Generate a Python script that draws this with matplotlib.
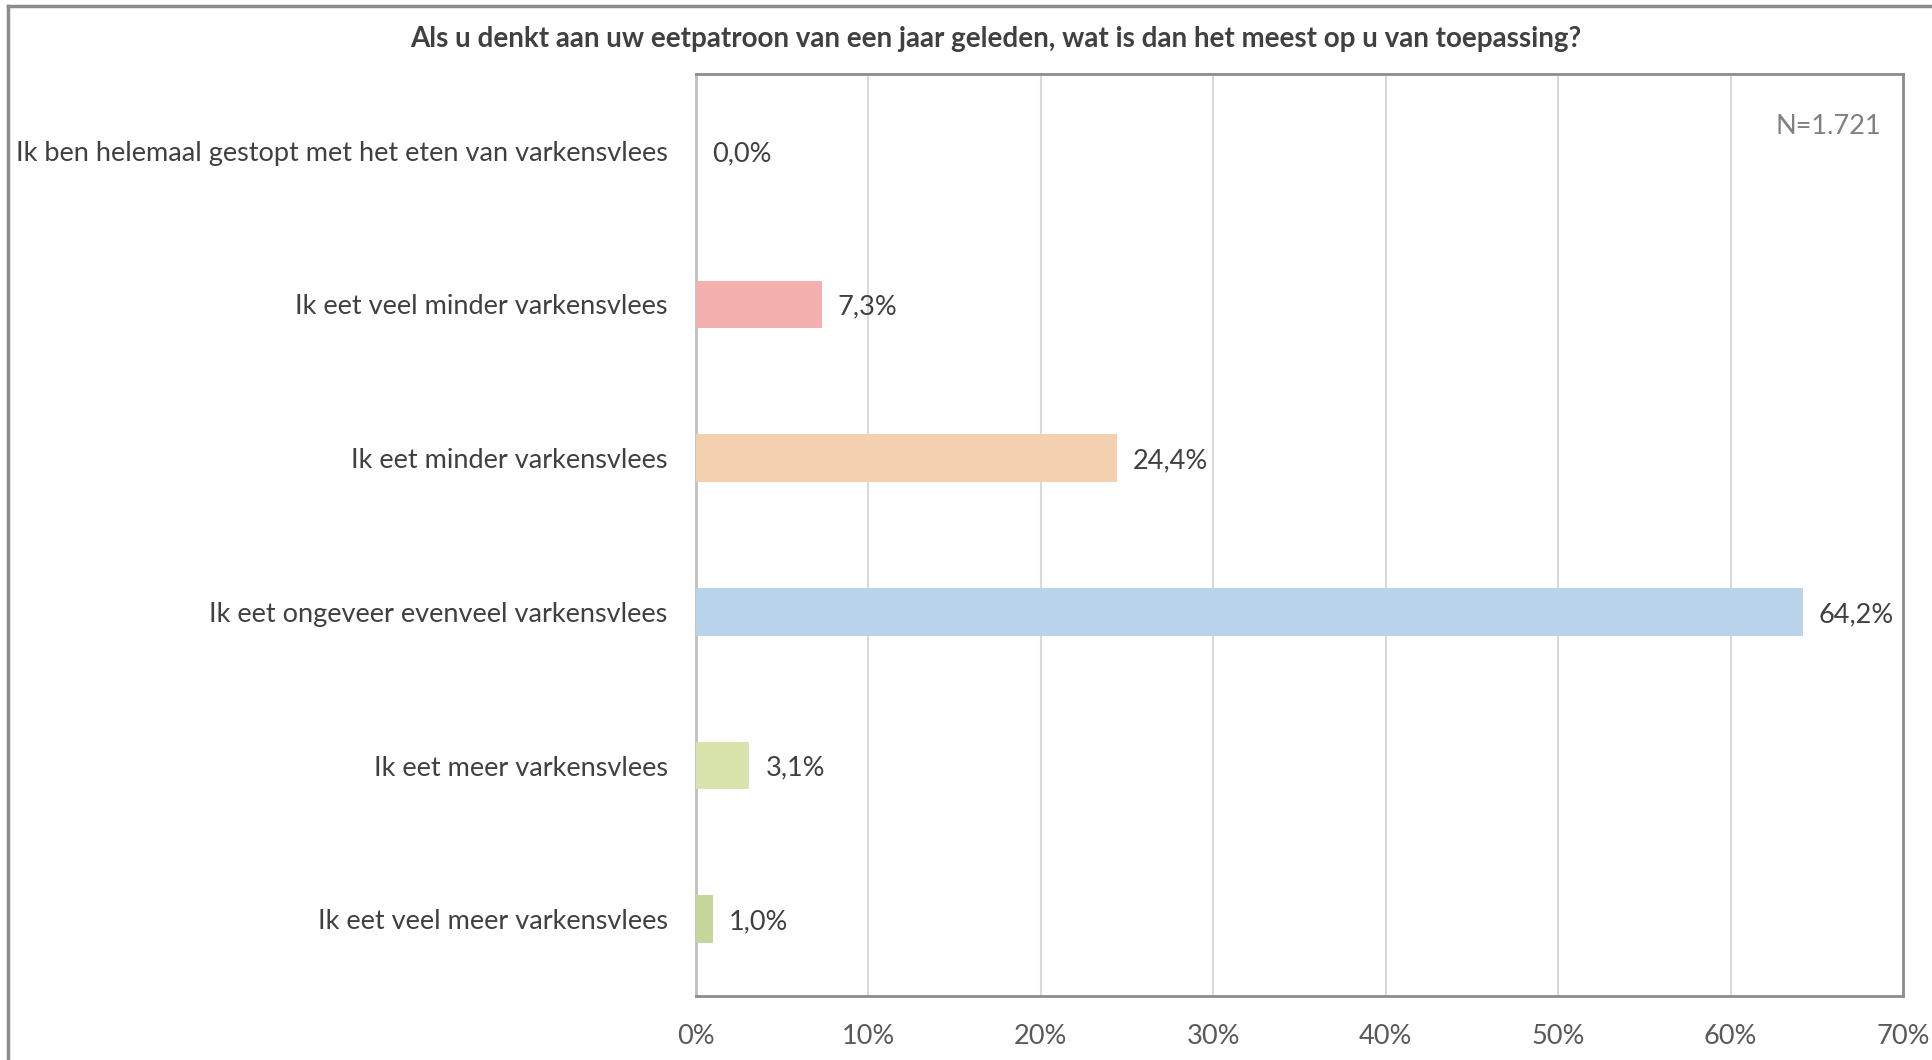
import matplotlib
matplotlib.use("Agg")
import matplotlib.pyplot as plt
from matplotlib.lines import Line2D

categories = [
    "Ik ben helemaal gestopt met het eten van varkensvlees",
    "Ik eet veel minder varkensvlees",
    "Ik eet minder varkensvlees",
    "Ik eet ongeveer evenveel varkensvlees",
    "Ik eet meer varkensvlees",
    "Ik eet veel meer varkensvlees",
]
values = [0.0, 7.3, 24.4, 64.2, 3.1, 1.0]
colors = ["#F4AFAF", "#F4AFAF", "#F3D0B0", "#B9D3EB", "#D8E4AB", "#C6D59A"]
xticks = [0, 10, 20, 30, 40, 50, 60, 70]
title = "Als u denkt aan uw eetpatroon van een jaar geleden, wat is dan het meest op u van toepassing?"
n_label = "N=1.721"

plt.rcParams['font.family'] = ['Lato', 'DejaVu Sans']

W, H = 1933, 1060
fig = plt.figure(figsize=(W/100, H/100), dpi=100)
ax = fig.add_axes([696/W, 1 - 996/H, (1903-696)/W, (996-74)/H])

ypos = list(range(len(categories)))
ax.barh(ypos, values, height=0.31, color=colors, zorder=3)
ax.set_ylim(len(categories) - 0.5, -0.5)
ax.set_xlim(0, 70)
ax.set_yticks(ypos)
ax.set_yticklabels(categories, fontsize=19.5, color="#404040")
for lbl in ax.get_yticklabels():
    lbl.set_va("center_baseline")
ax.set_xticks(xticks)
ax.set_xticklabels([f"{t}%" for t in xticks], fontsize=19.5, color="#595959")
ax.tick_params(axis='both', length=0)
ax.tick_params(axis='y', pad=20.5)
ax.tick_params(axis='x', pad=20)
ax.grid(axis='x', color="#D9D9D9", linewidth=1.5, zorder=0)

for s in ['left']:
    ax.spines[s].set_color("#BFBFBF")
    ax.spines[s].set_linewidth(2)
for s in ['bottom', 'right', 'top']:
    ax.spines[s].set_color("#8C8C8C")
    ax.spines[s].set_linewidth(2)

for y, v in zip(ypos, values):
    ax.annotate(f"{v:.1f}%".replace(".", ","), xy=(v, y), xytext=(16, 0),
                textcoords="offset pixels",
                va="center_baseline", ha="left", fontsize=19.5, color="#404040", zorder=4)

ax.text(0.982, 0.957, n_label, transform=ax.transAxes, ha="right", va="top",
        fontsize=19.5, color="#808080")

fig.text(996/W, 1 - 39/H, title, ha="center", va="center", fontsize=20,
         fontweight="bold", color="#404040")

# outer chart border
fig.add_artist(Line2D([8/W, 1], [1 - 6/H, 1 - 6/H], transform=fig.transFigure,
                      color="#8C8C8C", linewidth=2.5))
fig.add_artist(Line2D([8/W, 8/W], [0, 1 - 6/H], transform=fig.transFigure,
                      color="#8C8C8C", linewidth=2.5))

fig.savefig("out.png", dpi=100)
